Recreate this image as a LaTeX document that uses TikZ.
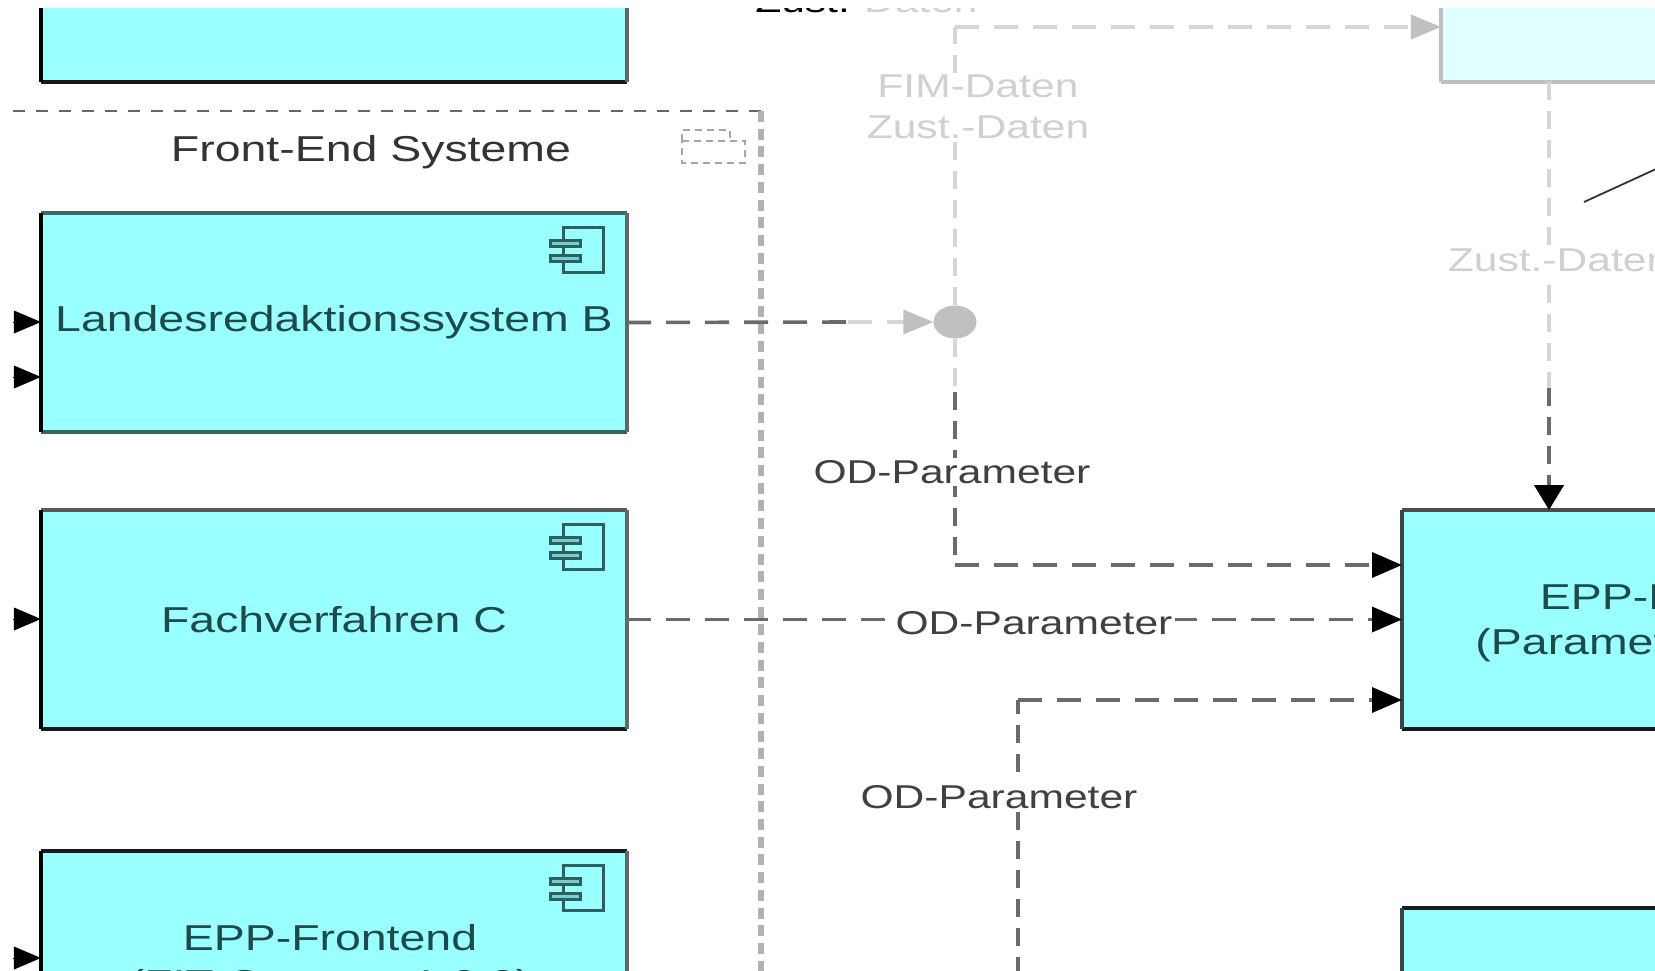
\documentclass[tikz,border=0pt]{standalone}
\usepackage{fontspec}
\setmainfont{Liberation Sans}
\usetikzlibrary{arrows.meta,shapes.geometric}
\definecolor{aquafill}{HTML}{99FFFF}
\definecolor{palefill}{HTML}{E0FFFF}
\definecolor{fadegray}{HTML}{D6D6D6}
\definecolor{fadehead}{HTML}{C0C0C0}
\definecolor{fadetext}{HTML}{D0D0D0}
\definecolor{dashgray}{HTML}{6A6A6A}
\definecolor{iconline}{HTML}{2F6060}
\definecolor{boxtext}{HTML}{1E4A4A}
\tikzset{
	comptext/.style={inner sep=0pt, align=center, text=boxtext, font=\fontsize{36}{45}\selectfont, xscale=1.29, transform shape},
	comp/.style={comptext, fill=aquafill, outer sep=0pt, minimum width=454.3pt, minimum height=219pt},
	lbl/.style={fill=white, inner sep=2pt, align=center, text=#1, font=\fontsize{33}{41}\selectfont, xscale=1.29, transform shape},
	lbl/.default={black!75},
	dashh/.style={line width=3.6pt, dash pattern=on 24pt off 15pt},
	dashv/.style={line width=4.4pt, dash pattern=on 18pt off 11pt},
	tiph/.style={-{Triangle[length=30pt,width=25pt,color=black]}},
	tipv/.style={-{Triangle[length=25pt,width=29pt,color=black]}},
	tipfade/.style={-{Triangle[length=30pt,width=24pt,color=fadehead]}},
	stub/.style={-{Triangle[length=27pt,width=23pt]}, line width=0pt},
	pics/compicon/.style={code={
		\draw[iconline, line width=3pt, fill=aquafill] (-64,14) rectangle (-23.5,59);
		\draw[iconline, line width=3pt, fill=aquafill!70!iconline] (-77,27) rectangle (-47,33);
		\draw[iconline, line width=3pt, fill=aquafill!70!iconline] (-77,42) rectangle (-47,48);
	}},
}
% coloured box sides: name, top, bottom, left, right
\newcommand{\boxsides}[5]{
	\draw[#2, line width=4pt] (#1.north west) -- (#1.north east);
	\draw[#3, line width=4pt] (#1.south west) -- (#1.south east);
	\draw[#4, line width=4pt] (#1.north west) -- (#1.south west);
	\draw[#5, line width=4pt] (#1.north east) -- (#1.south east);
}
\begin{document}
\begin{tikzpicture}[x=1pt, y=-1pt]
	\useasboundingbox (0, 0) rectangle (1655, 970);
	\clip (0, 8.5) rectangle (1655, 970);
	% Front-End frame
	\coordinate (frameA) at (13, 111);
	\coordinate (frameB) at (761, 111);
	\coordinate (frameC) at (761, 975);
	\draw[black!60, line width=2.6pt, dash pattern=on 12pt off 11pt] (frameA) -- (frameB);
	\draw[black!30, line width=6.5pt, dash pattern=on 11pt off 6.7pt] (frameB) -- (frameC);
	\node[lbl=black!80, fill=none, font=\fontsize{36}{45}\selectfont] (frontend) at (371, 152) {Front-End Systeme};
	\draw[black!35, line width=1.6pt, dash pattern=on 7pt off 5pt] (682, 141) -- (745, 141) -- (745, 163) -- (682, 163) -- cycle (682, 141) -- (682, 130) -- (730, 130) -- (730, 141);
	% boxes
	\node[comp] (topbox) at (334, -27.5) {};
	\node[comp] (landes) at (334, 322.5) {Landesredaktionssystem B};
	\node[comp] (fach) at (334, 619.5) {Fachverfahren C};
	\node[comp] (eppfront) at (334, 960.5) {};
	\node[comp, fill=palefill] (palebox) at (1734, -27.5) {};
	\node[comp, minimum width=440.3pt] (eppbox) at (1686, 619.5) {};
	\node[comp, minimum width=440.3pt] (lowbox) at (1686, 1017.5) {};
	\node[comptext] (eppfronttext) at (330, 964) {EPP-Frontend\\(FIT-Connect 1.0.0)};
	\node[comptext] (epptext) at (1684.5, 623) {EPP-Backend\\(Parameter-Service)};
	\boxsides{topbox}{black}{black!90}{black}{black!60}
	\boxsides{landes}{iconline!75!gray}{iconline!90!gray}{black}{black!60}
	\boxsides{fach}{black!65}{iconline!30!black}{black}{black!60}
	\boxsides{eppfront}{black!90}{black}{black}{black!60}
	\boxsides{palebox}{fadehead}{fadehead}{fadehead}{fadehead}
	\boxsides{eppbox}{black!70}{iconline!30!black}{black!75}{black!75}
	\boxsides{lowbox}{black!90}{black}{black!75}{black!75}
	\pic at (landes.north east) {compicon};
	\pic at (fach.north east) {compicon};
	\pic at (eppfront.north east) {compicon};
	% left stubs
	\coordinate (stubA) at (13, 322);
	\coordinate (stubB) at (13, 377);
	\coordinate (stubC) at (13, 619);
	\coordinate (stubD) at (13, 958);
	\draw[stub] (stubA) -- (stubA -| landes.west);
	\draw[stub] (stubB) -- (stubB -| landes.west);
	\draw[stub] (stubC) -- (stubC -| fach.west);
	\draw[stub] (stubD) -- (stubD -| eppfront.west);
	% junction and faded lines
	\node[ellipse, fill=fadehead, inner sep=0pt, minimum width=43pt, minimum height=33pt] (junct) at (955, 322) {};
	\coordinate (fadeH) at (848, 322);
	\coordinate (fadeV) at (955, 392);
	\coordinate (cornerA) at (955, 27);
	\coordinate (fadeW) at (1549, 388);
	\draw[dashh, dashgray] (landes.east) -- (fadeH);
	\draw[dashh, fadegray, tipfade] (fadeH) -- (junct.west);
	\draw[dashv, fadegray] (junct.north) -- (cornerA);
	\draw[dashh, fadegray, tipfade] (cornerA) -- (cornerA -| palebox.west);
	\draw[dashv, fadegray] (junct.south) -- (fadeV);
	\draw[dashv, fadegray] (fadeW |- palebox.south) -- (fadeW);
	% dark lines
	\coordinate (cornerB) at (955, 565);
	\coordinate (cornerC) at (1018, 700);
	\coordinate (startC) at (1018, 975);
	\draw[dashv, dashgray] (fadeV) -- (cornerB);
	\draw[dashh, dashgray, tiph] (cornerB) -- (cornerB -| eppbox.west);
	\draw[dashh, dashgray, tiph] (fach.east) -- (fach.east -| eppbox.west);
	\draw[dashv, dashgray] (startC) -- (cornerC);
	\draw[dashh, dashgray, tiph] (cornerC) -- (cornerC -| eppbox.west);
	\draw[dashv, dashgray, tipv] (fadeW) -- (fadeW |- eppbox.north);
	% labels
	\node[lbl=fadetext] (fimdaten) at (978, 107) {FIM-Daten\\Zust.-Daten};
	\node[lbl=fadetext, anchor=west] (zustdaten) at (1445, 260) {Zust.-Daten};
	\node[lbl] (odA) at (952, 472) {OD-Parameter};
	\node[lbl] (odB) at (1034, 623) {OD-Parameter};
	\node[lbl] (odC) at (999, 797) {OD-Parameter};
	\node[lbl=black, fill=none, anchor=base west, inner sep=0pt] (zustcut) at (755, 12) {Zust.\textcolor{fadetext}{-Daten}};
	% callout line
	\coordinate (calloutA) at (1584, 202);
	\coordinate (calloutB) at (1656, 169);
	\draw[black!80, line width=1.8pt] (calloutA) -- (calloutB);
\end{tikzpicture}
\end{document}
